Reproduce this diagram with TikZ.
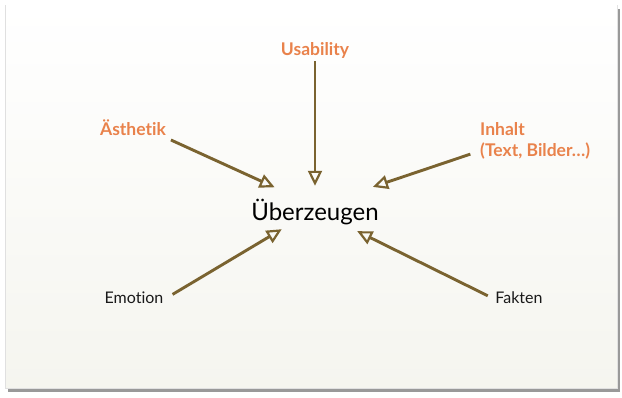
\documentclass[tikz,border=0pt]{standalone}
\usepackage{fontspec}
\setmainfont[Ligatures=NoCommon]{Lato}
\usetikzlibrary{positioning, calc, arrows.meta}
\usepackage{xcolor}
\definecolor{olivearrow}{RGB}{122,99,48}
\definecolor{slideorange}{RGB}{233,130,75}
\definecolor{slidebottom}{RGB}{245,245,239}

\begin{document}
\begin{tikzpicture}[x=1pt, y=-1pt,
    lbl/.style={font=\fontsize{16}{18}\selectfont, text=black!90, inner sep=3pt},
    hilbl/.style={font=\fontsize{17.5}{21}\selectfont\bfseries, text=slideorange, inner sep=3pt},
    pull/.style={draw=olivearrow, line width=2.9pt,
      -{Triangle[open, length=15pt, width=14pt, line width=2.2pt]}}]
  \useasboundingbox (0,0) rectangle (622,398);

  % slide with its shadow
  \fill[black!40] (8,9) rectangle (620,392);
  \fill[black!12] (5,5) rectangle (618,389);
  \shade[top color=white, bottom color=slidebottom] (6,6) rectangle (617,388);

  % centre
  \node[font=\fontsize{24}{28}\selectfont, text=black, inner sep=0pt,
        minimum width=140pt, minimum height=30pt] (ueber) at (315,212) {Überzeugen};

  % sources
  \node[hilbl] (usab) at (315,50) {Usability};
  \node[hilbl] (asth) at (133,128) {Ästhetik};
  \node[hilbl, align=left, anchor=north west] (inhalt) at (477,119) {Inhalt\\(Text, Bilder\ldots)};
  \node[lbl] (emot) at (134,298) {Emotion};
  \node[lbl] (fakt) at (519,298) {Fakten};

  % arrows
  \draw[pull, shorten >=11pt] (usab.south) -- (ueber.north);
  \draw[pull, shorten <=2pt, shorten >=23pt] (asth.south east) -- (ueber.142);
  \draw[pull, shorten <=7pt, shorten >=31pt] (inhalt.191) -- (ueber.28);
  \draw[pull, shorten <=7pt, shorten >=4pt] (emot.east) -- (ueber.207);
  \draw[pull, shorten <=5pt, shorten >=9pt] (fakt.west) -- (ueber.336);
\end{tikzpicture}
\end{document}
